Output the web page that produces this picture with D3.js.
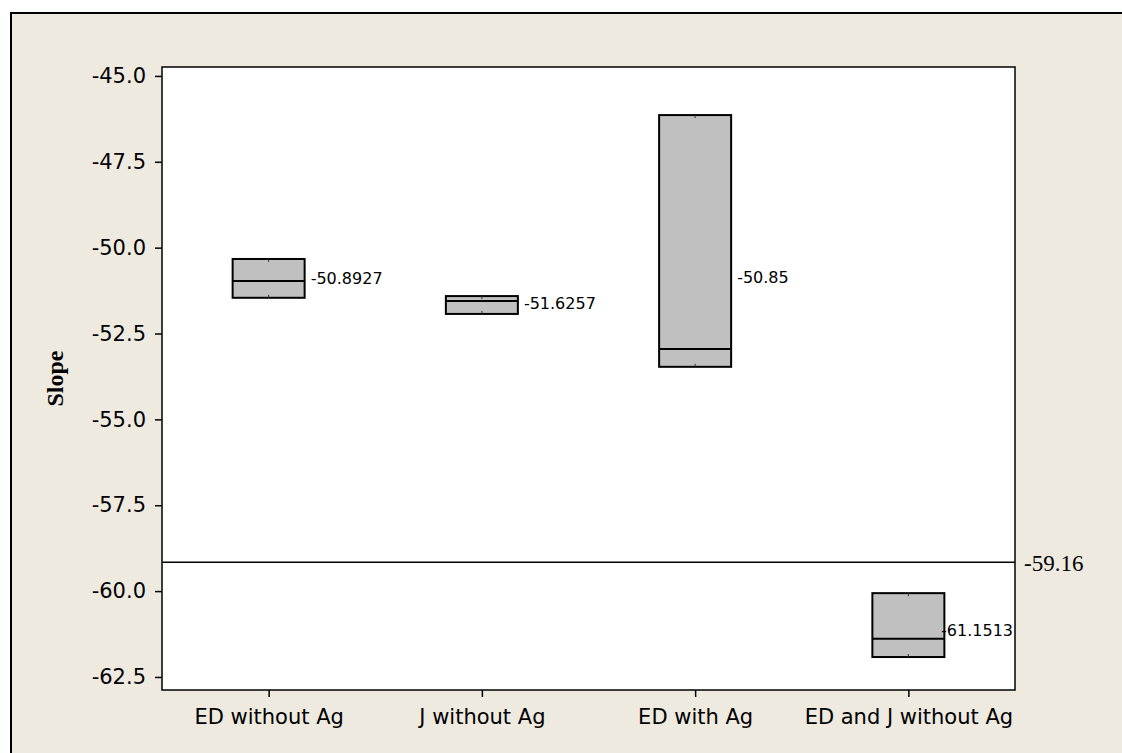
<!DOCTYPE html>
<html>
<head>
<meta charset="utf-8">
<script src="https://cdn.jsdelivr.net/npm/d3@7"></script>
<style>
  html, body { margin: 0; padding: 0; background: #ffffff; }
  svg { display: block; }
</style>
</head>
<body>
<div id="chart"></div>
<script>
// Chart data
const categories = ['ED without Ag', 'J without Ag', 'ED with Ag', 'ED and J without Ag'];
const boxLow = [-51.46, -51.93, -53.47, -61.92];
const boxHigh = [-50.33, -51.41, -46.14, -60.06];
const midLine = [-50.97, -51.55, -52.95, -61.39];
const labelValues = [-50.8927, -51.6257, -50.85, -61.1513];
const labelTexts = ['-50.8927', '-51.6257', '-50.85', '-61.1513'];
const centerLine = -59.16;
const yTicks = [-45.0, -47.5, -50.0, -52.5, -55.0, -57.5, -60.0, -62.5];

const width = 1122;
const height = 753;
const plot = { left: 162, top: 67, right: 1015, bottom: 690 };

const svg = d3.select('#chart')
    .append('svg')
    .attr('width', width)
    .attr('height', height);

// Outer beige frame (runs off the right and bottom edges)
svg.append('rect')
    .attr('x', 11)
    .attr('y', 13)
    .attr('width', 1200)
    .attr('height', 1000)
    .attr('fill', '#eeeae0')
    .attr('stroke', '#000')
    .attr('stroke-width', 2);

// Plot area
svg.append('rect')
    .attr('x', plot.left)
    .attr('y', plot.top)
    .attr('width', plot.right - plot.left)
    .attr('height', plot.bottom - plot.top)
    .attr('fill', '#fff');

// Scales
const x = d3.scalePoint()
    .domain(categories)
    .range([plot.left, plot.right])
    .padding(0.5);

const y = d3.scaleLinear()
    .domain([-62.88, -44.74])
    .range([plot.bottom, plot.top]);

const boxWidth = 72;

// Axes
const yAxis = svg.append('g')
    .attr('transform', `translate(${plot.left},0)`)
    .call(d3.axisLeft(y)
        .tickValues(yTicks)
        .tickFormat(d => d.toFixed(1))   // plain hyphen, not the unicode minus
        .tickSize(7)
        .tickPadding(9));

const xAxis = svg.append('g')
    .attr('transform', `translate(0,${plot.bottom})`)
    .call(d3.axisBottom(x)
        .tickSize(7)
        .tickPadding(12));

[yAxis, xAxis].forEach(g => {
    g.select('.domain').remove();
    g.selectAll('line').attr('stroke', '#000').attr('stroke-width', 1.5);
    g.selectAll('text')
        .attr('fill', '#000')
        .style('font-family', '"DejaVu Sans", sans-serif')
        .style('font-size', '21px');
});

// Y axis title
svg.append('text')
    .attr('transform', `translate(63,${(plot.top + plot.bottom) / 2}) rotate(-90)`)
    .attr('text-anchor', 'middle')
    .style('font-family', '"Liberation Serif", "Times New Roman", serif')
    .style('font-weight', 'bold')
    .style('font-size', '24px')
    .attr('fill', '#000')
    .text('Slope');

// Reference line
svg.append('line')
    .attr('x1', plot.left)
    .attr('x2', plot.right)
    .attr('y1', y(centerLine))
    .attr('y2', y(centerLine))
    .attr('stroke', '#000')
    .attr('stroke-width', 1.5);

svg.append('text')
    .attr('x', plot.right + 9)
    .attr('y', y(centerLine))
    .attr('dy', '0.38em')
    .style('font-family', '"Liberation Serif", "Times New Roman", serif')
    .style('font-size', '23px')
    .attr('fill', '#000')
    .text(centerLine.toFixed(2));

// Boxes
const boxes = svg.selectAll('.box')
    .data(categories)
    .enter()
    .append('g')
    .attr('class', 'box');

boxes.append('rect')
    .attr('x', d => x(d) - boxWidth / 2)
    .attr('y', (d, i) => y(boxHigh[i]))
    .attr('width', boxWidth)
    .attr('height', (d, i) => y(boxLow[i]) - y(boxHigh[i]))
    .attr('fill', '#c0c0c0')
    .attr('stroke', '#000')
    .attr('stroke-width', 2);

// small marks at the box centre, top and bottom
boxes.append('line')
    .attr('x1', d => x(d))
    .attr('x2', d => x(d))
    .attr('y1', (d, i) => y(boxHigh[i]))
    .attr('y2', (d, i) => y(boxHigh[i]) + 3)
    .attr('stroke', '#333')
    .attr('stroke-width', 1);

boxes.append('line')
    .attr('x1', d => x(d))
    .attr('x2', d => x(d))
    .attr('y1', (d, i) => y(boxLow[i]))
    .attr('y2', (d, i) => y(boxLow[i]) - 3)
    .attr('stroke', '#333')
    .attr('stroke-width', 1);

boxes.append('line')
    .attr('x1', d => x(d) - boxWidth / 2)
    .attr('x2', d => x(d) + boxWidth / 2)
    .attr('y1', (d, i) => y(midLine[i]))
    .attr('y2', (d, i) => y(midLine[i]))
    .attr('stroke', '#000')
    .attr('stroke-width', 2);

// Value labels, kept inside the plot area
boxes.append('text')
    .attr('y', (d, i) => y(labelValues[i]))
    .attr('dy', '0.36em')
    .style('font-family', '"DejaVu Sans", sans-serif')
    .style('font-size', '16px')
    .attr('fill', '#000')
    .text((d, i) => labelTexts[i])
    .attr('x', function(d) {
        const w = this.getComputedTextLength();
        return Math.min(x(d) + boxWidth / 2 + 6, plot.right - 2 - w);
    });

// Plot border on top
svg.append('rect')
    .attr('x', plot.left)
    .attr('y', plot.top)
    .attr('width', plot.right - plot.left)
    .attr('height', plot.bottom - plot.top)
    .attr('fill', 'none')
    .attr('stroke', '#000')
    .attr('stroke-width', 1.5);
</script>
</body>
</html>
